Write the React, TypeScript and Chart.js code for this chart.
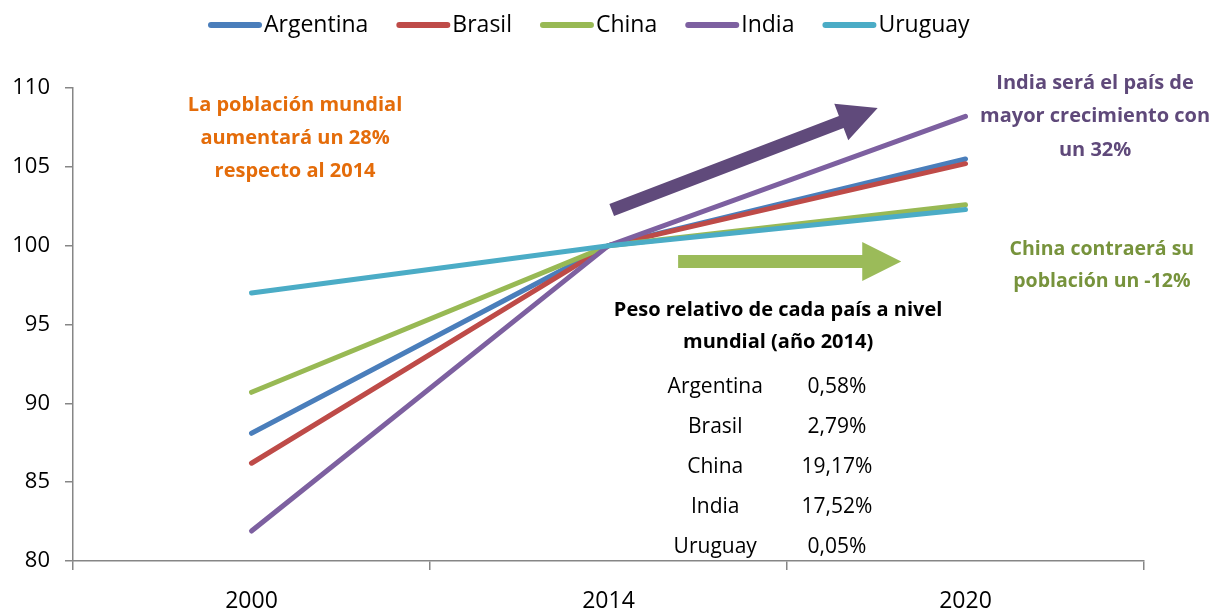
import React, { useEffect, useRef } from "react";
import { Chart, registerables } from "chart.js";

Chart.register(...registerables);

// ---- data ----
const years = ["2000", "2014", "2020"];
const argentina = [88.1, 100, 105.5];
const brasil = [86.2, 100, 105.2];
const china = [90.7, 100, 102.6];
const india = [81.9, 100, 108.2];
const uruguay = [97.0, 100, 102.3];
const seriesNames = ["Argentina", "Brasil", "China", "India", "Uruguay"];
const seriesValues = [argentina, brasil, china, india, uruguay];
const seriesColors = ["#4A7EBB", "#BE4B48", "#98B954", "#7D60A0", "#4BACC6"];
const yMin = 80;
const yMax = 110;
const yStep = 5;

const tableTitle = ["Peso relativo de cada país a nivel", "mundial (año 2014)"];
const tableCountries = ["Argentina", "Brasil", "China", "India", "Uruguay"];
const tableShares = ["0,58%", "2,79%", "19,17%", "17,52%", "0,05%"];

const noteWorld = ["La población mundial", "aumentará un 28%", "respecto al 2014"];
const noteIndia = ["India será el país de", "mayor crecimiento con", "un 32%"];
const noteChina = ["China contraerá su", "población un -12%"];

const FONT = "'Open Sans', 'DejaVu Sans', sans-serif";

function drawArrow(
  ctx: CanvasRenderingContext2D,
  x1: number, y1: number, x2: number, y2: number,
  shaftW: number, headW: number, headL: number, color: string
) {
  const dx = x2 - x1, dy = y2 - y1;
  const len = Math.hypot(dx, dy);
  const ux = dx / len, uy = dy / len;
  const nx = -uy, ny = ux;
  const bx = x2 - ux * headL, by = y2 - uy * headL;
  ctx.save();
  ctx.fillStyle = color;
  ctx.beginPath();
  ctx.moveTo(x1 + nx * shaftW / 2, y1 + ny * shaftW / 2);
  ctx.lineTo(bx + nx * shaftW / 2, by + ny * shaftW / 2);
  ctx.lineTo(bx + nx * headW / 2, by + ny * headW / 2);
  ctx.lineTo(x2, y2);
  ctx.lineTo(bx - nx * headW / 2, by - ny * headW / 2);
  ctx.lineTo(bx - nx * shaftW / 2, by - ny * shaftW / 2);
  ctx.lineTo(x1 - nx * shaftW / 2, y1 - ny * shaftW / 2);
  ctx.closePath();
  ctx.fill();
  ctx.restore();
}

function drawLines(
  ctx: CanvasRenderingContext2D, lines: string[], cx: number, cy: number,
  spacing: number, font: string, color: string, align: CanvasTextAlign = "center"
) {
  ctx.save();
  ctx.font = font;
  ctx.fillStyle = color;
  ctx.textAlign = align;
  ctx.textBaseline = "middle";
  lines.forEach((l, i) => ctx.fillText(l, cx, cy + i * spacing));
  ctx.restore();
}

const annotations = {
  id: "annotations",
  afterDatasetsDraw(chart: any) {
    const ctx: CanvasRenderingContext2D = chart.ctx;
    const xs = chart.scales.x;
    const ys = chart.scales.y;
    const X = (v: number) => xs.getPixelForValue(v);
    const Y = (v: number) => ys.getPixelForValue(v);

    // arrows
    drawArrow(ctx, X(1.009), Y(102.26), X(1.754), Y(108.73), 13, 39, 39, "#604A7B");
    drawArrow(ctx, X(1.195), Y(99.0), X(1.82), Y(99.0), 13, 39, 39, "#9BBB59");

    // notes
    drawLines(ctx, noteWorld, X(0.122), Y(108.92), 33, `bold 20px ${FONT}`, "#E46C0A");
    drawLines(ctx, noteIndia, X(2.363), Y(110.32), 33.5, `bold 20px ${FONT}`, "#5F497A");
    drawLines(ctx, noteChina, X(2.382), Y(99.73), 32, `bold 19.5px ${FONT}`, "#77933C");

    // table
    drawLines(ctx, tableTitle, X(1.475), Y(95.92), 32, `bold 20px ${FONT}`, "#000000");
    drawLines(ctx, tableCountries, X(1.299), Y(91.04), 40, `21px ${FONT}`, "#000000");
    drawLines(ctx, tableShares, X(1.64), Y(91.04), 40, `21px ${FONT}`, "#000000");

    // legend
    ctx.save();
    ctx.font = `23px ${FONT}`;
    ctx.textBaseline = "middle";
    ctx.textAlign = "left";
    let x = 208;
    const y = 25;
    seriesNames.forEach((name, i) => {
      ctx.strokeStyle = seriesColors[i];
      ctx.lineWidth = 6;
      ctx.lineCap = "round";
      ctx.beginPath();
      ctx.moveTo(x + 3, y);
      ctx.lineTo(x + 51, y);
      ctx.stroke();
      ctx.fillStyle = "#000000";
      ctx.fillText(name, x + 56, y);
      x += 56 + ctx.measureText(name).width + 28;
    });
    ctx.restore();
  },
};

export default function App() {
  const ref = useRef<HTMLCanvasElement | null>(null);

  useEffect(() => {
    if (!ref.current) return;
    const axisColor = "#868686";
    const chart = new Chart(ref.current, {
      type: "line",
      data: {
        labels: years,
        datasets: seriesNames.map((name, i) => ({
          label: name,
          data: seriesValues[i],
          borderColor: seriesColors[i],
          backgroundColor: seriesColors[i],
          borderWidth: 5,
          borderCapStyle: "round" as const,
          pointRadius: 0,
          tension: 0,
          order: seriesNames.length - i,
        })),
      },
      options: {
        responsive: true,
        maintainAspectRatio: false,
        animation: false,
        layout: { padding: { top: 88, right: 69, left: 0, bottom: 0 } },
        plugins: {
          legend: { display: false },
          tooltip: { enabled: false },
        },
        scales: {
          x: {
            type: "category",
            offset: true,
            grid: {
              offset: true,
              drawOnChartArea: false,
              tickLength: 9,
              color: axisColor,
              lineWidth: 1.5,
            },
            border: { color: axisColor, width: 1.5 },
            ticks: {
              color: "#000000",
              font: { family: FONT, size: 23 },
              padding: 18,
              maxRotation: 0,
            },
            afterFit: (s: any) => { s.height = 50; },
          },
          y: {
            min: yMin,
            max: yMax,
            grid: {
              drawOnChartArea: false,
              tickLength: 8,
              color: axisColor,
              lineWidth: 1.5,
            },
            border: { color: axisColor, width: 1.5 },
            ticks: {
              stepSize: yStep,
              color: "#000000",
              font: { family: FONT, size: 22 },
              padding: 15,
            },
            afterFit: (s: any) => { s.width = 73; },
          },
        },
      },
      plugins: [annotations],
    });
    return () => chart.destroy();
  }, []);

  return (
    <div style={{ position: "fixed", left: 0, top: 0, width: 1213, height: 611, background: "#ffffff" }}>
      <canvas ref={ref} />
    </div>
  );
}
